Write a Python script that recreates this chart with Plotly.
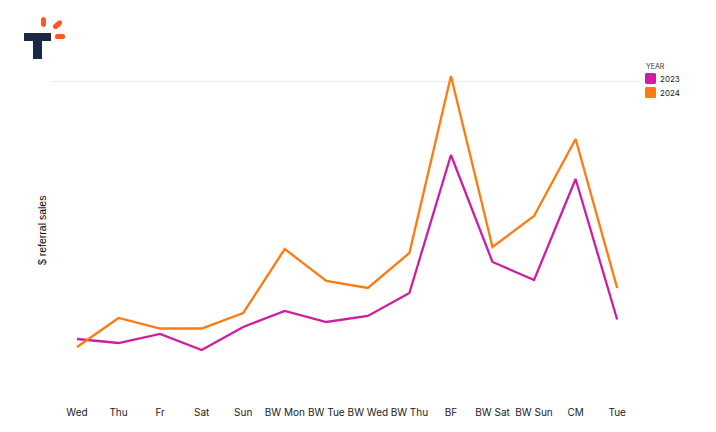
import plotly.graph_objects as go

# band labels along the bottom
days = ["Wed", "Thu", "Fr", "Sat", "Sun", "BW Mon", "BW Tue", "BW Wed", "BW Thu",
        "BF", "BW Sat", "BW Sun", "CM", "Tue"]
sales_2023 = [46, 42, 51, 35, 58, 74, 63, 69, 92, 230, 123, 105, 206, 65.5]
sales_2024 = [38, 67, 56.5, 56.5, 72, 136, 104, 97, 132, 309, 138, 169, 246, 97]
grid_ticks = [304]

MAGENTA = "#d01c9f"
ORANGE = "#ff7a0f"
NAVY = "#1b2a44"
RED = "#ff5722"

fig = go.Figure()
for name, vals, col in [("2023", sales_2023, MAGENTA), ("2024", sales_2024, ORANGE)]:
    fig.add_trace(go.Scatter(x=list(range(len(days))), y=vals, name=name, mode="lines",
                             line=dict(color=col, width=2.3), showlegend=False))

fig.update_layout(
    width=716, height=432,
    margin=dict(l=50, r=76, t=0, b=47),
    paper_bgcolor="white", plot_bgcolor="white",
    font=dict(family="Inter", size=10, color="#222222"),
    showlegend=False,
)
fig.update_xaxes(range=[-0.65, 13.55], tickmode="array", tickvals=list(range(len(days))),
                 ticktext=days, tickangle=0, ticklabelstandoff=20, showgrid=False, zeroline=False,
                 showline=False, ticks="", tickfont=dict(size=10, color="#222222"))
fig.update_yaxes(range=[0, 385], tickmode="array", tickvals=grid_ticks, showticklabels=False,
                 showgrid=True, gridcolor="#ececec", gridwidth=1, zeroline=False, showline=False,
                 ticks="")


# page pixels to paper coordinates
def fx(px):
    return (px - 50) / 590


def fy(py):
    return 1 - py / 385


def pt(a, b):
    return f"{fx(a):.5f},{fy(b):.5f}"


def add_path(points, col):
    fig.add_shape(type="path", xref="paper", yref="paper", fillcolor=col, line=dict(width=0),
                  path="M " + " L ".join(pt(a, b) for a, b in points) + " Z")


# rounded dash, drawn from two bezier ends
def add_pill(x0, y0, x1, y1, r, col):
    length = ((x1 - x0) ** 2 + (y1 - y0) ** 2) ** 0.5
    dx, dy = (x1 - x0) / length * r, (y1 - y0) / length * r
    nx, ny = -dy, dx
    k = 4 / 3
    path = (f"M {pt(x0 + nx, y0 + ny)} L {pt(x1 + nx, y1 + ny)} "
            f"C {pt(x1 + nx + k * dx, y1 + ny + k * dy)} {pt(x1 - nx + k * dx, y1 - ny + k * dy)} {pt(x1 - nx, y1 - ny)} "
            f"L {pt(x0 - nx, y0 - ny)} "
            f"C {pt(x0 - nx - k * dx, y0 - ny - k * dy)} {pt(x0 + nx - k * dx, y0 + ny - k * dy)} {pt(x0 + nx, y0 + ny)} Z")
    fig.add_shape(type="path", xref="paper", yref="paper", path=path, fillcolor=col, line=dict(width=0))


# legend swatch with small corners
def add_swatch(x0, y0, x1, y1, r, col):
    path = (f"M {pt(x0 + r, y0)} L {pt(x1 - r, y0)} Q {pt(x1, y0)} {pt(x1, y0 + r)} "
            f"L {pt(x1, y1 - r)} Q {pt(x1, y1)} {pt(x1 - r, y1)} "
            f"L {pt(x0 + r, y1)} Q {pt(x0, y1)} {pt(x0, y1 - r)} "
            f"L {pt(x0, y0 + r)} Q {pt(x0, y0)} {pt(x0 + r, y0)} Z")
    fig.add_shape(type="path", xref="paper", yref="paper", path=path, fillcolor=col, line=dict(width=0))


# axis title
fig.add_annotation(text="$ referral sales", xref="paper", yref="paper", x=fx(41.5), y=fy(230.5),
                   xanchor="center", yanchor="middle", textangle=-90, showarrow=False,
                   font=dict(family="Liberation Sans", size=10.5, color="#000000"))

# legend, hand drawn so it sits where the original does
fig.add_annotation(text="YEAR", xref="paper", yref="paper", x=fx(645), y=fy(66), xanchor="left",
                   yanchor="middle", xshift=-1, showarrow=False, font=dict(size=7, color="#333333"))
for name, col, py in [("2023", MAGENTA, 78.5), ("2024", ORANGE, 92.5)]:
    add_swatch(645, py - 5.5, 656, py + 5.5, 1.5, col)
    fig.add_annotation(text=name, xref="paper", yref="paper", x=fx(657.5), y=fy(py), xanchor="left",
                       yanchor="middle", showarrow=False, font=dict(size=8, color="#222222"))

# logo
add_path([(24, 33), (51, 33), (51, 41), (42, 41), (42, 59), (33, 59), (33, 41), (24, 41)], NAVY)
add_pill(43.5, 19.5, 43.5, 24.5, 2.5, RED)
add_pill(55.5, 26.5, 59.5, 23, 2.6, RED)
add_pill(57.5, 36.5, 62.5, 36.5, 2.6, RED)

# plotly's page keeps the 8px body margin otherwise
fig.write_html("out.html", config=dict(displayModeBar=False),
               post_script="document.body.style.margin='0';")
